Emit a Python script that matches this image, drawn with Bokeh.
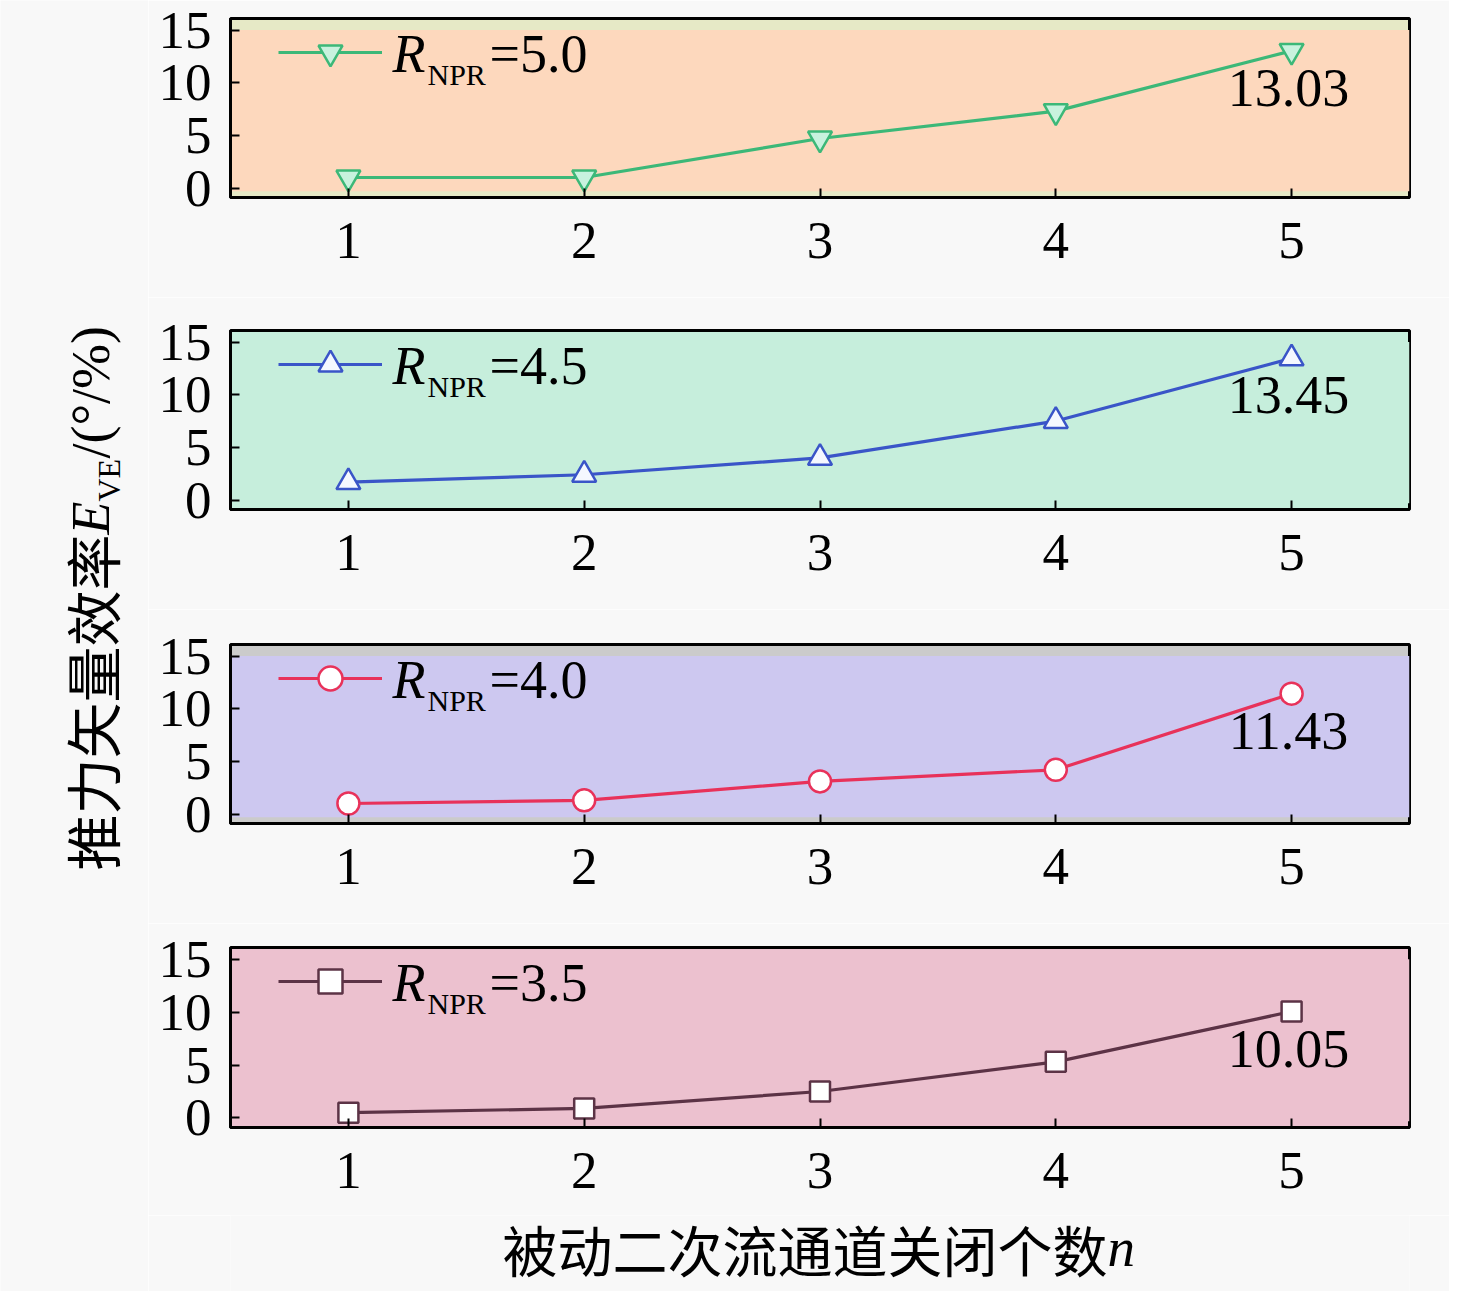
import math
from bokeh.plotting import figure
from bokeh.models import Range1d, Label, Legend, LegendItem, FixedTicker, BoxAnnotation
from bokeh.layouts import row, column
from bokeh.embed import file_html
from bokeh.resources import INLINE
from bokeh.core.properties import value

# ---------------- data ----------------
n_closed = [1, 2, 3, 4, 5]
npr_labels = ["5.0", "4.5", "4.0", "3.5"]
eve_npr50 = [1.0, 1.0, 4.7, 7.3, 13.03]
eve_npr45 = [1.7, 2.4, 4.0, 7.5, 13.45]
eve_npr40 = [1.0, 1.3, 3.1, 4.2, 11.43]
eve_npr35 = [0.5, 0.9, 2.5, 5.3, 10.05]
series = [eve_npr50, eve_npr45, eve_npr40, eve_npr35]
x_ticks = [1, 2, 3, 4, 5]
y_ticks = [0, 5, 10, 15]
ylabel_cjk = "推力矢量效率"
ylabel_sym = "E"
ylabel_sub = "VE"
ylabel_unit = "/(°/%)"
xlabel_cjk = "被动二次流通道关闭个数"
xlabel_sym = "n"

# ---------------- styles ----------------
PAGE_BG = "#f8f8f8"
SERIF = "Liberation Serif"
CJK = "Noto Sans CJK SC"
styles = [
    dict(marker="inverted_triangle", size=24, color="#3cb878", fill="#c8f2de", bg="#fdd8bd", strip="#e6e9c6"),
    dict(marker="triangle", size=24, color="#3a55c8", fill="#f5f8ff", bg="#c6eedc", strip="#c6eedc"),
    dict(marker="circle", size=22, color="#e8325a", fill="#ffffff", bg="#cdc8f0", strip="#cbcbcb"),
    dict(marker="square", size=20, color="#5c3346", fill="#ffffff", bg="#ecc1cf", strip="#ecc1cf"),
]
border_tops = [18, 33, 35, 24]
frame_heights = [179, 179, 179, 180]
border_bottoms = [100, 100, 100, 88]
FRAME_W = 1179
BL, BR = 82, 40
FIG_W = FRAME_W + BL + BR
LAB_W = 148
XLAB_H = 76

panels = []
for i, (vals, npr, st) in enumerate(zip(series, npr_labels, styles)):
    fh = frame_heights[i]
    p = figure(frame_width=FRAME_W, frame_height=fh,
               min_border_left=BL, min_border_right=BR,
               min_border_top=border_tops[i], min_border_bottom=border_bottoms[i],
               x_range=Range1d(0.5, 5.5), y_range=Range1d(-0.9, 16.1),
               toolbar_location=None, output_backend="svg")
    p.background_fill_color = st["strip"]
    p.border_fill_color = PAGE_BG
    p.outline_line_color = "black"
    p.outline_line_width = 3
    p.grid.visible = False
    p.add_layout(BoxAnnotation(bottom=-0.3, top=15, fill_color=st["bg"], fill_alpha=1.0,
                               line_color=None, level="underlay"))

    p.xaxis.ticker = FixedTicker(ticks=x_ticks)
    p.yaxis.ticker = FixedTicker(ticks=y_ticks)
    for ax in (p.xaxis[0], p.yaxis[0]):
        ax.major_tick_in = 9
        ax.major_tick_out = 0
        ax.minor_tick_line_color = None
        ax.major_tick_line_width = 2
        ax.major_tick_line_color = "black"
        ax.axis_line_width = 3
        ax.axis_line_color = "black"
        ax.major_label_text_font = SERIF
        ax.major_label_text_font_size = "53px"
        ax.major_label_text_color = "black"
    p.yaxis.major_label_standoff = 19
    p.xaxis.major_label_standoff = 25

    ln = p.line(n_closed, vals, line_width=3.2, color=st["color"])
    sc = p.scatter(n_closed, vals, marker=st["marker"], size=st["size"],
                   line_color=st["color"], fill_color=st["fill"], line_width=2.5)

    # value annotation at the last point
    p.text(x=[n_closed[-1]], y=[vals[-1]], text=["%.2f" % vals[-1]],
           text_font=value(SERIF), text_font_size="54px", text_color="black",
           text_align="center", text_baseline="alphabetic", x_offset=-3, y_offset=37)

    # legend sample (line + marker), text drawn with labels
    leg = Legend(items=[LegendItem(label=" ", renderers=[ln, sc])],
                 location=(48, fh - 64), glyph_width=104, glyph_height=60,
                 padding=0, margin=0, spacing=0, label_standoff=0,
                 background_fill_alpha=0, border_line_alpha=0,
                 label_text_font_size="1px")
    p.add_layout(leg)
    p.add_layout(Label(x=162, y=fh - 35, x_units="screen", y_units="screen", text="R",
                       text_font=SERIF, text_font_style="italic", text_font_size="54px",
                       text_baseline="alphabetic", text_color="black"))
    p.add_layout(Label(x=197, y=fh - 56, x_units="screen", y_units="screen", text="NPR",
                       text_font=SERIF, text_font_size="30px",
                       text_baseline="alphabetic", text_color="black"))
    p.add_layout(Label(x=259, y=fh - 35, x_units="screen", y_units="screen", text="=" + npr,
                       text_font=SERIF, text_font_size="54px",
                       text_baseline="alphabetic", text_color="black"))
    panels.append(p)

# x-axis title in a strip figure below the bottom panel (its frame aligns with the panels' frames)
xl = figure(width=FIG_W, height=XLAB_H, x_range=Range1d(0, 1), y_range=Range1d(0, 1),
            x_axis_type=None, y_axis_type=None, toolbar_location=None,
            output_backend="svg", min_border=0)
xl.grid.visible = False
xl.outline_line_color = None
xl.background_fill_color = PAGE_BG
xl.border_fill_color = PAGE_BG
xl.add_layout(Label(x=272, y=44, x_units="screen", y_units="screen", text=xlabel_cjk,
                    text_font=CJK, text_font_size="55px", text_baseline="alphabetic",
                    text_color="black"))
xl.add_layout(Label(x=877, y=44, x_units="screen", y_units="screen", text=xlabel_sym,
                    text_font=SERIF, text_font_style="italic", text_font_size="55px",
                    text_baseline="alphabetic", text_color="black"))

# y-axis title in a narrow side figure
total_h = sum(border_tops) + sum(frame_heights) + sum(border_bottoms) + XLAB_H
lab = figure(width=LAB_W, height=total_h, x_range=Range1d(0, 1), y_range=Range1d(0, 1),
             x_axis_type=None, y_axis_type=None, toolbar_location=None,
             output_backend="svg", min_border=0)
lab.grid.visible = False
lab.outline_line_color = None
lab.background_fill_color = PAGE_BG
lab.border_fill_color = PAGE_BG
base_x = 90
ang = math.pi / 2
y0 = total_h - 870
lab.add_layout(Label(x=base_x, y=y0, x_units="screen", y_units="screen", text=ylabel_cjk, angle=ang,
                     text_font=CJK, text_font_size="56px", text_baseline="alphabetic", text_color="black"))
y1 = y0 + 6 * 56
lab.add_layout(Label(x=base_x, y=y1, x_units="screen", y_units="screen", text=ylabel_sym, angle=ang,
                     text_font=SERIF, text_font_style="italic", text_font_size="54px",
                     text_baseline="alphabetic", text_color="black"))
y2 = y1 + 33
lab.add_layout(Label(x=base_x + 18, y=y2, x_units="screen", y_units="screen", text=ylabel_sub, angle=ang,
                     text_font=SERIF, text_font_size="32px",
                     text_baseline="alphabetic", text_color="black"))
y3 = y2 + 43
lab.add_layout(Label(x=base_x, y=y3, x_units="screen", y_units="screen", text=ylabel_unit, angle=ang,
                     text_font=SERIF, text_font_size="54px",
                     text_baseline="alphabetic", text_color="black"))

layout = row(lab, column(*panels, xl))
html = file_html(layout, INLINE)
html = html.replace("<body>", '<body style="background-color:%s;">' % PAGE_BG, 1)
open("out.html", "w").write(html)
